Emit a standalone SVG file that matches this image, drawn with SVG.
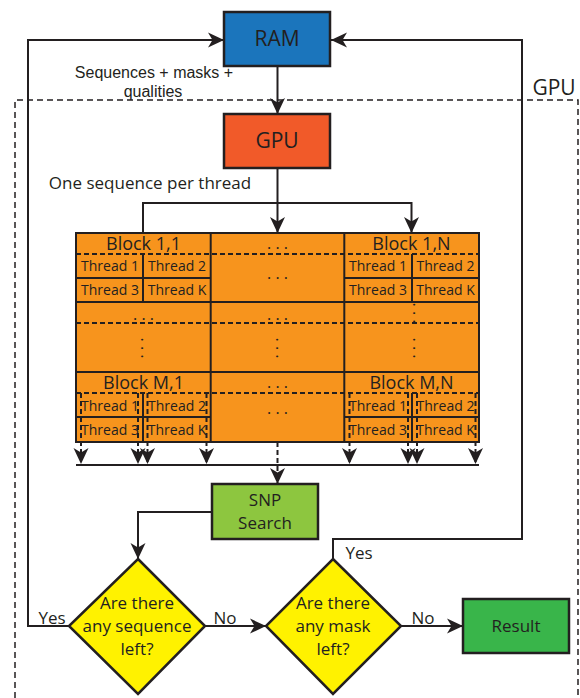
<svg xmlns="http://www.w3.org/2000/svg" width="580" height="698" viewBox="0 0 580 698">
<style>
text{font-family:"Open Sans","Liberation Sans",sans-serif;fill:#231F20;text-anchor:middle}
.box{stroke:#231F20;stroke-width:2.5}
.ln{fill:none;stroke:#231F20;stroke-width:2}
.gl{fill:none;stroke:#231F20;stroke-width:2}
.dl{fill:none;stroke:#231F20;stroke-width:2;stroke-dasharray:5 3}
.th{font-size:14px}
.bk{font-size:18px}
.dt{font-size:16px}
.lbl{font-size:17px}
.sm{font-size:16px;font-family:"Liberation Sans",Arial,sans-serif}
</style>
<defs>
<marker id="ah" markerUnits="userSpaceOnUse" markerWidth="17" markerHeight="17" refX="16" refY="8.5" orient="auto" viewBox="0 0 17 17">
<path d="M0,1 L16,8.5 L0,16 L4.5,8.5 Z" fill="#231F20"/>
</marker>
</defs>

<!-- GPU dashed region -->
<g id="gpu-region">
<path d="M15,698 V100 H578 V698" fill="none" stroke="#231F20" stroke-width="1.5" stroke-dasharray="6 4"/>
<text x="554" y="95" style="font-size:21px">GPU</text>
</g>

<g id="connectors">
<line class="ln" x1="277.5" y1="66" x2="277.5" y2="114" marker-end="url(#ah)"/>
<polyline class="ln" points="69,626 28,626 28,40 224,40" marker-end="url(#ah)"/>
<polyline class="ln" points="333,559 333,539 522,539 522,40 331,40" marker-end="url(#ah)"/>
<line class="ln" x1="277.5" y1="168" x2="277.5" y2="233" marker-end="url(#ah)"/>
<polyline class="ln" points="143,233 143,203 411.5,203 411.5,233" marker-end="url(#ah)"/>
<polyline class="ln" points="212,512 138,512 138,559" marker-end="url(#ah)"/>
<line class="ln" x1="205" y1="626" x2="266" y2="626" marker-end="url(#ah)"/>
<line class="ln" x1="401" y1="626" x2="463" y2="626" marker-end="url(#ah)"/>
</g>

<g id="ram">
<rect class="box" x="224" y="12" width="106" height="54" fill="#1B75BC"/>
<text x="277" y="46" style="font-size:21px">RAM</text>
</g>
<text class="sm" x="154" y="78">Sequences + masks +</text>
<text class="sm" x="153" y="97">qualities</text>

<g id="gpu">
<rect class="box" x="224" y="114" width="106" height="54" fill="#F15A29"/>
<text x="277" y="148" style="font-size:21px">GPU</text>
</g>
<text class="lbl" x="150" y="189">One sequence per thread</text>

<g id="grid">
<rect x="76" y="233" width="403" height="209" fill="#F7941D" stroke="#231F20" stroke-width="2"/>
<line class="gl" x1="210.7" y1="233" x2="210.7" y2="442"/>
<line class="gl" x1="344.3" y1="233" x2="344.3" y2="442"/>
<line class="dl" x1="76" y1="254" x2="479" y2="254"/>
<line class="gl" x1="76" y1="278" x2="210.7" y2="278"/>
<line class="gl" x1="344.3" y1="278" x2="479" y2="278"/>
<line class="gl" x1="76" y1="302" x2="479" y2="302"/>
<line class="dl" x1="76" y1="323" x2="479" y2="323"/>
<line class="gl" x1="76" y1="372" x2="479" y2="372"/>
<line class="dl" x1="76" y1="393" x2="479" y2="393"/>
<line class="gl" x1="76" y1="417" x2="210.7" y2="417"/>
<line class="gl" x1="344.3" y1="417" x2="479" y2="417"/>
<line class="gl" x1="143" y1="254" x2="143" y2="302"/>
<line class="gl" x1="412" y1="254" x2="412" y2="302"/>
<line class="gl" x1="143" y1="393" x2="143" y2="442"/>
<line class="gl" x1="412" y1="393" x2="412" y2="442"/>

<text class="bk" x="143.5" y="250">Block 1,1</text>
<text class="dt" x="277.5" y="249">. . .</text>
<text class="bk" x="411.5" y="250">Block 1,N</text>
<text class="th" x="110" y="271">Thread 1</text>
<text class="th" x="177" y="271">Thread 2</text>
<text class="th" x="110" y="295">Thread 3</text>
<text class="th" x="177" y="295">Thread K</text>
<text class="th" x="378" y="271">Thread 1</text>
<text class="th" x="445.5" y="271">Thread 2</text>
<text class="th" x="378" y="295">Thread 3</text>
<text class="th" x="445.5" y="295">Thread K</text>
<text class="dt" x="277.5" y="279">. . .</text>
<text class="dt" x="143.5" y="320">. . .</text>
<text class="dt" x="277.5" y="320">. . .</text>
<text class="dt" x="413" y="313" transform="rotate(90 413 313)">. . .</text>
<text class="dt" x="140.5" y="348" transform="rotate(90 140.5 348)">. . .</text>
<text class="dt" x="275.5" y="348" transform="rotate(90 275.5 348)">. . .</text>
<text class="dt" x="413" y="348" transform="rotate(90 413 348)">. . .</text>
<text class="bk" x="143.5" y="389">Block M,1</text>
<text class="dt" x="277.5" y="388">. . .</text>
<text class="bk" x="411.5" y="389">Block M,N</text>
<text class="th" x="110" y="411">Thread 1</text>
<text class="th" x="177" y="411">Thread 2</text>
<text class="th" x="110" y="435">Thread 3</text>
<text class="th" x="177" y="435">Thread K</text>
<text class="th" x="378" y="411">Thread 1</text>
<text class="th" x="445.5" y="411">Thread 2</text>
<text class="th" x="378" y="435">Thread 3</text>
<text class="th" x="445.5" y="435">Thread K</text>
<text class="dt" x="277.5" y="414">. . .</text>
</g>

<g id="thread-outputs">
<line class="dl" x1="81" y1="393" x2="81" y2="464" marker-end="url(#ah)"/>
<line class="dl" x1="138" y1="393" x2="138" y2="464" marker-end="url(#ah)"/>
<line class="dl" x1="147.5" y1="393" x2="147.5" y2="464" marker-end="url(#ah)"/>
<line class="dl" x1="206.5" y1="393" x2="206.5" y2="464" marker-end="url(#ah)"/>
<line class="dl" x1="349.5" y1="393" x2="349.5" y2="464" marker-end="url(#ah)"/>
<line class="dl" x1="408" y1="393" x2="408" y2="464" marker-end="url(#ah)"/>
<line class="dl" x1="417" y1="393" x2="417" y2="464" marker-end="url(#ah)"/>
<line class="dl" x1="475.5" y1="393" x2="475.5" y2="464" marker-end="url(#ah)"/>
<line class="ln" x1="76" y1="465" x2="479" y2="465"/>
<line class="dl" x1="277.5" y1="442" x2="277.5" y2="484" marker-end="url(#ah)"/>
</g>

<g id="snp">
<rect class="box" x="212" y="484" width="106" height="55" fill="#8DC63F"/>
<text class="lbl" x="265" y="506">SNP</text>
<text class="lbl" x="265" y="529">Search</text>
</g>

<g id="diamond-seq">
<polygon class="box" points="138,559 205,626 138,694 69,626" fill="#FFF200"/>
<text class="lbl" x="137" y="609">Are there</text>
<text class="lbl" x="137" y="632">any sequence</text>
<text class="lbl" x="137" y="655">left?</text>
</g>

<g id="diamond-mask">
<polygon class="box" points="333,559 401,626 333,694 266,626" fill="#FFF200"/>
<text class="lbl" x="333" y="609">Are there</text>
<text class="lbl" x="333" y="632">any mask</text>
<text class="lbl" x="333" y="655">left?</text>
</g>

<g id="result">
<rect class="box" x="463" y="599" width="106" height="54" fill="#39B54A"/>
<text class="lbl" x="516" y="632">Result</text>
</g>

<g id="labels">
<text class="lbl" x="52" y="624">Yes</text>
<text class="lbl" x="225" y="624">No</text>
<text class="lbl" x="423" y="624">No</text>
<text class="lbl" x="359" y="559">Yes</text>
</g>
</svg>
